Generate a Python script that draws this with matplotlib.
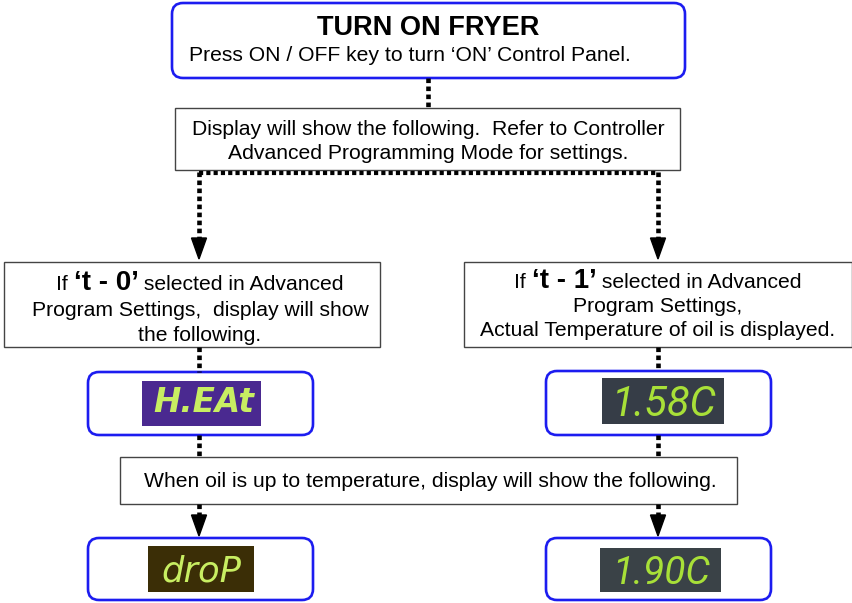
import matplotlib.pyplot as plt
from matplotlib.patches import FancyBboxPatch, Rectangle, Polygon

plt.rcParams['font.family'] = ['Liberation Sans', 'DejaVu Sans']

# texts of the flow chart
title = 'TURN ON FRYER'
title_sub = 'Press ON / OFF key to turn \u2018ON\u2019 Control Panel.'
step2_lines = ['Display will show the following.  Refer to Controller',
               'Advanced Programming Mode for settings.']
left_lines = [[('If ', 'normal'), ('\u2018t - 0\u2019', 'bold'), (' selected in Advanced', 'normal')],
              [('Program Settings,  display will show', 'normal')],
              [('the following.', 'normal')]]
right_lines = [[('If ', 'normal'), ('\u2018t - 1\u2019', 'bold'), (' selected in Advanced', 'normal')],
               [('Program Settings,', 'normal')],
               [('Actual Temperature of oil is displayed.', 'normal')]]
step4_text = 'When oil is up to temperature, display will show the following.'
displays = ['H.EAt', '1.58C', 'droP', '1.90C']
display_bg = ['#4a2990', '#363d47', '#3b2e06', '#3a4247']

BLUE = '#1c1cf0'
FS = 15.2

fig = plt.figure(figsize=(8.53, 6.03), dpi=100)
ax = fig.add_axes([0, 0, 1, 1])
ax.set_xlim(0, 853)
ax.set_ylim(603, 0)
ax.axis('off')
renderer = fig.canvas.get_renderer()


def round_box(x0, y0, x1, y1):
    ax.add_patch(FancyBboxPatch((x0, y0), x1 - x0, y1 - y0,
                                boxstyle='round,pad=0,rounding_size=11',
                                fc='white', ec=BLUE, lw=1.9))


def rect_box(x0, y0, x1, y1):
    ax.add_patch(Rectangle((x0, y0), x1 - x0, y1 - y0, fc='white', ec='#444444', lw=1.0))


def dots(xs, ys, lw=3.3):
    ax.plot(xs, ys, color='black', lw=lw, ls=(0, (1.0, 0.75)), solid_capstyle='butt',
            dash_capstyle='butt')


def arrow_head(x, y_tip, h=21, w=15):
    ax.add_patch(Polygon([(x - w / 2, y_tip - h), (x + w / 2, y_tip - h), (x, y_tip)],
                         closed=True, fc='black', ec='black'))


def rich_line(xc, y, parts, size=FS, bold_size=20):
    # measure then place pieces left to right
    items = []
    for txt, wt in parts:
        t = ax.text(0, y, txt, fontsize=bold_size if wt == 'bold' else size,
                    fontweight=wt, va='baseline', ha='left')
        w = t.get_window_extent(renderer=renderer).width
        items.append((t, w))
    total = sum(w for _, w in items)
    x = xc - total / 2
    for t, w in items:
        t.set_x(x)
        x += w


# top box
round_box(172, 3, 685, 78)
ax.text(428, 35, title, fontsize=19.5, fontweight='bold', ha='center', va='baseline')
ax.text(410, 61, title_sub, fontsize=FS, ha='center', va='baseline')

dots([428, 428], [78, 108])

# second box
rect_box(175, 108, 680, 170)
for i, line in enumerate(step2_lines):
    ax.text(428, 135 + i * 24, line, fontsize=FS, ha='center', va='baseline')

dots([199, 658], [172.5, 172.5], lw=3.0)
dots([199, 199], [172, 238])
dots([658, 658], [172, 238])
arrow_head(199, 259)
arrow_head(658, 259)

# branch boxes
rect_box(4, 262, 380, 347)
rect_box(464, 262, 852, 347)
for i, parts in enumerate(left_lines):
    rich_line(200, 290 + i * 25.5, parts)
for i, parts in enumerate(right_lines):
    rich_line(658, 288 + i * 24, parts)

dots([199, 199], [347, 372])
dots([658, 658], [347, 371])

# first display row
round_box(88, 372, 313, 435)
round_box(546, 371, 771, 435)
ax.add_patch(Rectangle((142, 381), 119, 45, fc=display_bg[0], ec='none'))
ax.add_patch(Rectangle((602, 378), 122, 46, fc=display_bg[1], ec='none'))
ax.text(204, 412, displays[0], fontsize=23.5, fontweight='bold', style='italic',
        color='#c8ee62', ha='center', va='baseline', family='DejaVu Sans')
ax.text(664, 416, displays[1], fontsize=30, style='italic',
        color='#a8e038', ha='center', va='baseline', family=['Roboto', 'DejaVu Sans'])

dots([199, 199], [435, 457])
dots([658, 658], [435, 457])

# third box
rect_box(120, 457, 737, 504)
ax.text(430, 487, step4_text, fontsize=FS, ha='center', va='baseline')

dots([199, 199], [504, 515])
dots([658, 658], [504, 515])
arrow_head(199, 536)
arrow_head(658, 536)

# bottom display row
round_box(88, 538, 313, 600)
round_box(546, 538, 771, 600)
ax.add_patch(Rectangle((148, 546), 106, 46, fc=display_bg[2], ec='none'))
ax.add_patch(Rectangle((600, 548), 121, 44, fc=display_bg[3], ec='none'))
ax.text(201, 582, displays[2], fontsize=25.5, style='italic',
        color='#c8ee62', ha='center', va='baseline', family='DejaVu Sans')
ax.text(661, 584, displays[3], fontsize=28, style='italic',
        color='#a8e038', ha='center', va='baseline', family=['Roboto', 'DejaVu Sans'])

fig.savefig('out.png', dpi=100)
